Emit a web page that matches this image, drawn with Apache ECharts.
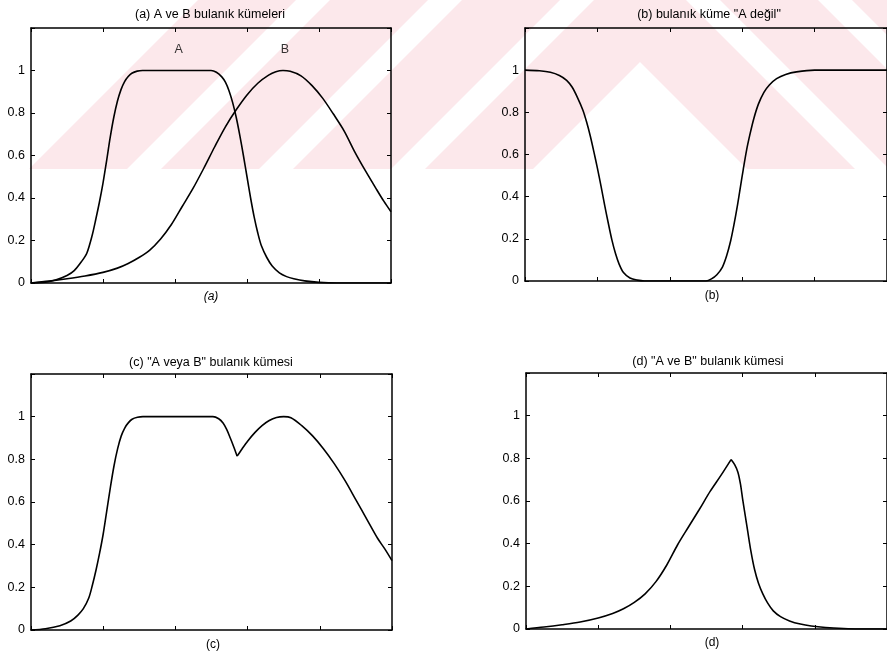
<!DOCTYPE html>
<html><head><meta charset="utf-8">
<script src="https://cdn.jsdelivr.net/npm/echarts@6/dist/echarts.min.js"></script>
<style>html,body{margin:0;padding:0;background:#fff}#c{width:887px;height:657px}</style>
</head><body><div id="c"></div>
<script>
// ---- data ----
const panelTitles = ['(a) A ve B bulanık kümeleri', '(b) bulanık küme "A değil"', '(c) "A veya B" bulanık kümesi', '(d) "A ve B" bulanık kümesi'];
const panelXLabels = ['(a)', '(b)', '(c)', '(d)'];
const yTickLabels = ['0', '0.2', '0.4', '0.6', '0.8', '1', ''];
const curveLabels = [['A', 41, 1.1], ['B', 70.5, 1.1]];

const curveA = [[0,0],[4,0.004],[7,0.015],[10,0.035],[12,0.058],[14,0.1],[15.5,0.14],[17,0.225],[18,0.3],[19,0.38],[20,0.47],[21,0.575],[22,0.685],[23,0.78],[24,0.855],[25,0.91],[26,0.948],[27,0.972],[28,0.987],[29.5,0.997],[31,1],[50,1],[51.5,0.992],[53,0.97],[54,0.945],[55,0.905],[56,0.85],[57,0.78],[58,0.695],[59,0.6],[60,0.5],[61,0.4],[62,0.31],[63,0.235],[64,0.175],[65.5,0.12],[67,0.08],[69,0.048],[71,0.03],[73,0.02],[76,0.01],[80,0.003],[85,0],[100,0]];

const curveB = [[0,0],[5,0.009],[10,0.02],[15,0.033],[20,0.05],[24,0.07],[27,0.092],[30,0.12],[33,0.155],[36,0.207],[39,0.275],[42,0.36],[45,0.445],[48,0.54],[51,0.64],[54,0.735],[57,0.815],[60,0.885],[63,0.94],[66,0.978],[68,0.994],[70,1],[72,0.996],[75,0.975],[78,0.93],[81,0.87],[84,0.795],[87,0.715],[90,0.615],[93,0.525],[96,0.44],[98,0.385],[100,0.335]];

const notA = [[0,1],[4,0.997],[7,0.99],[9.5,0.975],[11.5,0.952],[13,0.92],[14.5,0.87],[16,0.81],[17,0.755],[18,0.69],[19,0.615],[20,0.535],[21,0.45],[22,0.36],[23,0.275],[24,0.195],[25,0.13],[26,0.08],[27.2,0.04],[29,0.014],[31,0.004],[33,0],[50,0],[51.5,0.01],[53,0.03],[54.5,0.065],[55.7,0.12],[56.8,0.19],[57.7,0.265],[58.7,0.36],[59.5,0.445],[60.3,0.53],[61.2,0.62],[62.2,0.7],[63.2,0.77],[64.5,0.84],[66,0.895],[67.5,0.93],[69.5,0.96],[72,0.98],[75,0.992],[80,1],[100,1]];

// "A veya B": rising part up to the dip, then from the dip on
const aOrBLeft = [[0,0],[4,0.006],[8,0.02],[11,0.042],[13,0.07],[14.5,0.1],[16,0.15],[17,0.21],[18,0.28],[19,0.36],[20,0.45],[21,0.56],[22,0.67],[23,0.77],[24,0.85],[25,0.91],[26,0.948],[27,0.972],[28,0.988],[29.5,0.997],[31,1],[50.4,1],[52,0.99],[53.2,0.97],[54.2,0.94],[55.2,0.9],[56.2,0.857],[57.1,0.815]];
const aOrBRight = [[57.1,0.815],[58.5,0.85],[60,0.885],[62,0.925],[64,0.958],[66,0.982],[68,0.996],[70,1],[72,0.995],[75,0.958],[78,0.91],[81,0.85],[84,0.78],[87,0.7],[90,0.61],[93,0.52],[96,0.43],[98,0.38],[100,0.325]];

// "A ve B": rising part up to the peak, then from the peak on
const aAndBLeft = [[0,0],[5,0.009],[10,0.02],[15,0.033],[20,0.052],[24,0.073],[27,0.095],[30,0.125],[33,0.165],[36,0.222],[39,0.3],[42,0.395],[45,0.478],[48,0.56],[51,0.645],[54,0.72],[56.8,0.794]];
const aAndBRight = [[56.8,0.794],[57.8,0.77],[58.7,0.735],[59.4,0.68],[60,0.61],[60.7,0.535],[61.4,0.46],[62.3,0.365],[63.3,0.28],[64.4,0.215],[65.6,0.165],[67,0.12],[68.5,0.085],[70.5,0.058],[73,0.038],[76,0.023],[79,0.014],[83,0.007],[88,0.002],[92,0],[100,0]];

const panelCurves = [[curveA, curveB], [notA], [aOrBLeft, aOrBRight], [aAndBLeft, aAndBRight]];

// ---- layout ----
const grids = [
  {left: 31, top: 28, width: 360, height: 255},
  {left: 525, top: 28, width: 365, height: 253},
  {left: 31, top: 374, width: 361, height: 256},
  {left: 526, top: 373, width: 364, height: 256}
];
const titlePos = [[210, 15], [709, 15], [211, 363], [708, 362]];
const xLabelPos = [[211, 297], [712, 296], [213, 645], [712, 643]];
const FONT = '"Liberation Sans", Arial, sans-serif';

// faint scanned watermark (nested chevron bands), purely decorative background
const wmApexX = 640, wmBottom = 169;
const wmBands = [[-442, -344], [-310, -212], [-178, -80], [-46, 62]];

const xAxes = [], yAxes = [], series = [], graphics = [];
wmBands.forEach(([c1, c2]) => {
  const h1 = wmBottom - c1, h2 = wmBottom - c2;
  graphics.push({type: 'polygon', z: -100, silent: true,
    shape: {points: [[wmApexX - h1, wmBottom], [wmApexX, c1], [wmApexX + h1, wmBottom],
                     [wmApexX + h2, wmBottom], [wmApexX, c2], [wmApexX - h2, wmBottom]]},
    style: {fill: '#fce8eb'}});
});

grids.forEach((g, i) => {
  const axLine = {show: true, onZero: false, lineStyle: {color: '#000', width: 1.5}};
  const tick = {show: true, inside: true, length: 4, lineStyle: {color: '#000', width: 1}};
  xAxes.push({type: 'value', gridIndex: i, position: 'bottom', min: 0, max: 100, interval: 20,
    axisLine: axLine, axisTick: tick, axisLabel: {show: false}, splitLine: {show: false}});
  xAxes.push({type: 'value', gridIndex: i, position: 'top', min: 0, max: 100, interval: 20,
    axisLine: axLine, axisTick: tick, axisLabel: {show: false}, splitLine: {show: false}});
  yAxes.push({type: 'value', gridIndex: i, position: 'left', min: 0, max: 1.2, interval: 0.2,
    axisLine: axLine, axisTick: tick, splitLine: {show: false},
    axisLabel: {show: true, margin: 6, fontSize: 12.5, color: '#000', fontFamily: FONT,
      formatter: v => yTickLabels[Math.round(v / 0.2)]}});
  yAxes.push({type: 'value', gridIndex: i, position: 'right', min: 0, max: 1.2, interval: 0.2,
    axisLine: axLine, axisTick: tick, axisLabel: {show: false}, splitLine: {show: false}});
  panelCurves[i].forEach(c => {
    series.push({type: 'line', xAxisIndex: 2 * i, yAxisIndex: 2 * i, data: c, showSymbol: false,
      symbol: 'none', smooth: 0.3, lineStyle: {color: '#000', width: 1.6}, silent: true});
  });
  graphics.push({type: 'text', x: titlePos[i][0], y: titlePos[i][1], z: 10,
    style: {text: panelTitles[i], font: '12.5px ' + FONT, fill: '#000', textAlign: 'center', textVerticalAlign: 'middle', textBaseline: 'middle'}});
  graphics.push({type: 'text', x: xLabelPos[i][0], y: xLabelPos[i][1], z: 10,
    style: {text: panelXLabels[i], font: (i === 0 ? 'italic ' : '') + '12px ' + FONT, fill: '#000', textAlign: 'center', textVerticalAlign: 'middle', textBaseline: 'middle'}});
});
series.push({type: 'scatter', xAxisIndex: 0, yAxisIndex: 0, symbolSize: 0, silent: true,
  data: curveLabels.map(d => ({name: d[0], value: [d[1], d[2]]})),
  label: {show: true, position: 'inside', formatter: '{b}', color: '#000', fontSize: 12.5, fontFamily: FONT}});

const chart = echarts.init(document.getElementById('c'), null, {renderer: 'canvas'});
chart.setOption({
  animation: false,
  backgroundColor: '#fff',
  grid: grids.map(g => Object.assign({containLabel: false}, g)),
  xAxis: xAxes, yAxis: yAxes, series: series, graphic: graphics
});
</script></body></html>
